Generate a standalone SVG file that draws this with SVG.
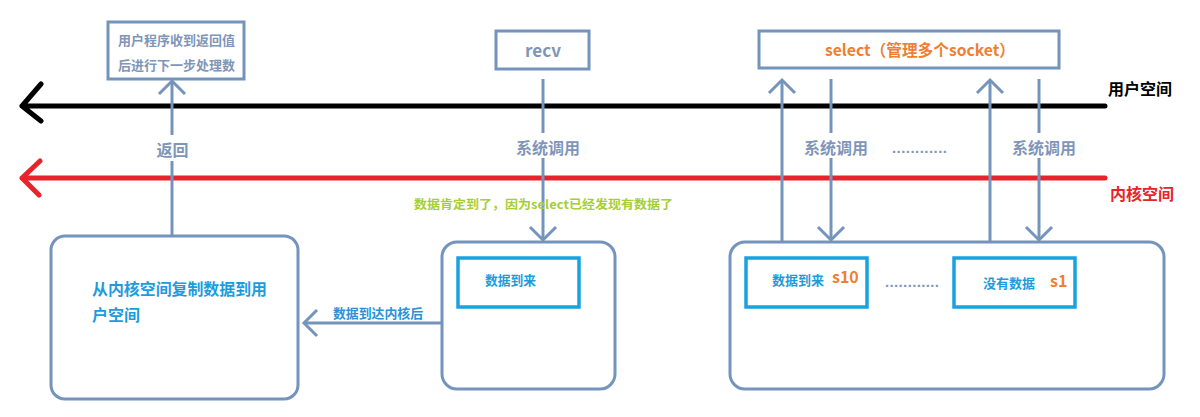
<svg xmlns="http://www.w3.org/2000/svg" width="1200" height="417" viewBox="0 0 1200 417">
  <style>
    .ln { fill: none; stroke: #7494BC; stroke-width: 3; }
    .box { fill: #FFFFFF; stroke: #7494BC; stroke-width: 3; }
    .inner { fill: #FFFFFF; stroke: #18A2E0; stroke-width: 3.5; }
    .cjk { font-family: "Noto Sans CJK SC", "Noto Sans", sans-serif; }
    .gray { fill: #7F96B8; }
    .blue { fill: #1C9CDE; }
    .orange { fill: #F07F33; font-weight: bold; }
    .lbl { font-size: 16px; text-anchor: middle; dominant-baseline: central; }
    .bg { fill: #FFFFFF; }
    .dots { font-family: "Liberation Sans", sans-serif; font-size: 15px; font-weight: bold; fill: #7F96B8; }
  </style>
  <defs>
    <marker id="arr" viewBox="-14 -14 16 28" refX="0" refY="0" markerWidth="16" markerHeight="28" markerUnits="userSpaceOnUse" orient="auto" overflow="visible">
      <path d="M-13,-13 L0,0 L-13,13" fill="none" stroke="#7494BC" stroke-width="3"/>
    </marker>
  </defs>
  <rect width="1200" height="417" fill="#FFFFFF"/>

  <!-- space axes -->
  <g id="user-space-axis">
    <path d="M1105,106 L22,106 M41,84 L22,106 L41,121" fill="none" stroke="#000000" stroke-width="5" stroke-linecap="round" stroke-linejoin="round"/>
    <text x="1108" y="88" class="cjk" font-size="16" font-weight="bold" fill="#000000" dominant-baseline="central">用户空间</text>
  </g>
  <g id="kernel-space-axis">
    <path d="M1105,178 L22,178 M40,161 L22,178 L39,195" fill="none" stroke="#E8232B" stroke-width="5" stroke-linecap="round" stroke-linejoin="round"/>
    <text x="1110" y="193" class="cjk" font-size="16" font-weight="bold" fill="#E8232B" dominant-baseline="central">内核空间</text>
  </g>

  <!-- connectors -->
  <g id="connectors">
    <path class="ln" d="M172,237 L172,81" marker-end="url(#arr)"/>
    <path class="ln" d="M543,79 L543,240" marker-end="url(#arr)"/>
    <path class="ln" d="M510,307 L510,323 L304,323" marker-end="url(#arr)"/>
    <path class="ln" d="M782,257 L782,80" marker-end="url(#arr)"/>
    <path class="ln" d="M831,79 L831,240" marker-end="url(#arr)"/>
    <path class="ln" d="M990,257 L990,80" marker-end="url(#arr)"/>
    <path class="ln" d="M1039,79 L1039,240" marker-end="url(#arr)"/>

    <rect class="bg" x="154" y="135" width="37" height="26"/>
    <text x="172.5" y="149" class="cjk gray lbl" font-weight="bold">返回</text>
    <rect class="bg" x="515" y="133" width="66" height="25"/>
    <text x="548" y="147" class="cjk gray lbl" font-weight="bold">系统调用</text>
    <rect class="bg" x="803" y="133" width="66" height="25"/>
    <text x="836" y="147" class="cjk gray lbl" font-weight="bold">系统调用</text>
    <rect class="bg" x="1011" y="133" width="66" height="25"/>
    <text x="1044" y="147" class="cjk gray lbl" font-weight="bold">系统调用</text>
    <text x="892" y="147" class="dots" textLength="55" lengthAdjust="spacing" dominant-baseline="central">............</text>

    <text x="414" y="203" class="cjk" font-size="12" font-weight="bold" fill="#A6CE36" textLength="259" lengthAdjust="spacingAndGlyphs" dominant-baseline="central">数据肯定到了，因为select已经发现有数据了</text>
    <text x="333" y="312" class="cjk" font-size="13" font-weight="bold" fill="#2B92D8" textLength="90" lengthAdjust="spacingAndGlyphs" dominant-baseline="central">数据到达内核后</text>
  </g>

  <!-- nodes -->
  <g id="user-program">
    <rect x="108" y="22" width="136" height="57" fill="#FFFFFF" stroke="#7494BC" stroke-width="3"/>
    <text x="118" y="39" class="cjk gray" font-size="13" font-weight="bold" textLength="117" lengthAdjust="spacingAndGlyphs" dominant-baseline="central">用户程序收到返回值</text>
    <text x="118" y="64" class="cjk gray" font-size="13" font-weight="bold" textLength="117" lengthAdjust="spacingAndGlyphs" dominant-baseline="central">后进行下一步处理数</text>
  </g>

  <g id="recv">
    <rect x="496" y="31" width="93" height="38" fill="#FFFFFF" stroke="#7494BC" stroke-width="3"/>
    <text x="543" y="49" class="cjk gray" font-size="17" font-weight="bold" text-anchor="middle" dominant-baseline="central">recv</text>
  </g>

  <g id="select">
    <rect x="759" y="31" width="300" height="37" fill="#FFFFFF" stroke="#7494BC" stroke-width="3"/>
    <text x="825" y="49" class="cjk orange" font-size="16" textLength="190" lengthAdjust="spacingAndGlyphs" dominant-baseline="central">select（管理多个socket）</text>
  </g>

  <g id="copy-to-user">
    <rect class="box" x="51" y="236" width="247" height="163" rx="14"/>
    <text x="92" y="288" class="cjk blue" font-size="16" font-weight="bold" textLength="175" lengthAdjust="spacingAndGlyphs" dominant-baseline="central">从内核空间复制数据到用</text>
    <text x="92" y="314" class="cjk blue" font-size="16" font-weight="bold" dominant-baseline="central">户空间</text>
  </g>

  <g id="recv-kernel">
    <rect class="box" x="442" y="242" width="173" height="147" rx="15"/>
  </g>
  <g id="recv-data-arrived">
    <rect class="inner" x="458" y="258" width="121" height="49"/>
    <text x="485" y="279" class="cjk blue" font-size="13" font-weight="bold" textLength="51" lengthAdjust="spacingAndGlyphs" dominant-baseline="central">数据到来</text>
  </g>

  <g id="select-kernel">
    <rect class="box" x="730" y="242" width="434" height="147" rx="15"/>
  </g>
  <g id="socket-s10">
    <rect class="inner" x="746" y="258" width="121" height="49"/>
    <text x="772" y="279" class="cjk blue" font-size="13" font-weight="bold" textLength="52" lengthAdjust="spacingAndGlyphs" dominant-baseline="central">数据到来</text>
    <text x="832" y="276" class="cjk orange" font-size="16" dominant-baseline="central">s10</text>
  </g>
  <g id="socket-dots">
    <text x="885" y="281" class="dots" textLength="54" lengthAdjust="spacing" dominant-baseline="central">............</text>
  </g>
  <g id="socket-s1">
    <rect class="inner" x="954" y="258" width="121" height="49"/>
    <text x="983" y="282" class="cjk blue" font-size="13" font-weight="bold" textLength="52" lengthAdjust="spacingAndGlyphs" dominant-baseline="central">没有数据</text>
    <text x="1050" y="280" class="cjk orange" font-size="16" dominant-baseline="central">s1</text>
  </g>
</svg>
